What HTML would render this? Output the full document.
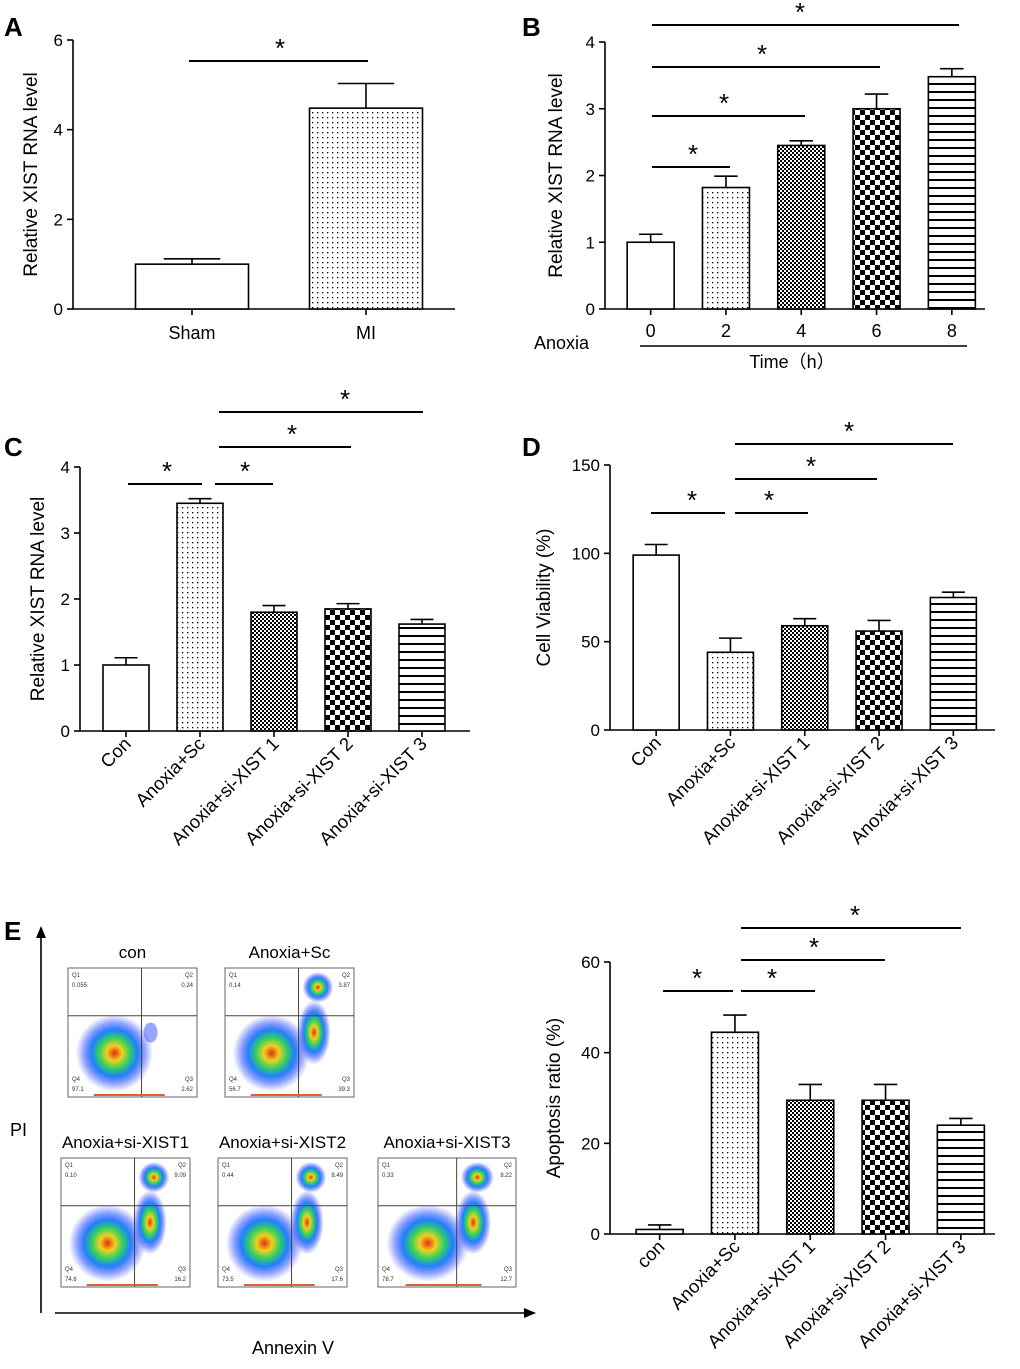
<!DOCTYPE html>
<html><head><meta charset="utf-8"><style>
body{margin:0;background:#fff}
svg{display:block;font-family:"Liberation Sans",Arial,sans-serif}
</style></head><body>
<svg id="fig" width="1020" height="1369" viewBox="0 0 1020 1369">
<defs>
<pattern id="dots" width="5" height="5" patternUnits="userSpaceOnUse"><rect width="5" height="5" fill="#fff"/><rect x="2" y="2" width="1.3" height="1.3" fill="#000"/></pattern>
<pattern id="fine" width="4" height="4" patternUnits="userSpaceOnUse"><rect width="4" height="4" fill="#fff"/><rect width="2" height="2" fill="#000"/><rect x="2" y="2" width="2" height="2" fill="#000"/></pattern>
<pattern id="coarse" width="10" height="10" patternUnits="userSpaceOnUse"><rect width="10" height="10" fill="#fff"/><rect width="5" height="5" fill="#000"/><rect x="5" y="5" width="5" height="5" fill="#000"/></pattern>
<pattern id="stripes" width="8" height="8" patternUnits="userSpaceOnUse"><rect width="8" height="8" fill="#fff"/><rect y="3" width="8" height="2" fill="#000"/></pattern>
<radialGradient id="blob"><stop offset="0" stop-color="#e03010"/><stop offset="0.2" stop-color="#f0d020"/><stop offset="0.4" stop-color="#30d060"/><stop offset="0.6" stop-color="#2080ff"/><stop offset="0.8" stop-color="#3050ff" stop-opacity="0.5"/><stop offset="1" stop-color="#4060ff" stop-opacity="0"/></radialGradient>
</defs>
<g id="root"></g>
</svg>
<script>
const NS="http://www.w3.org/2000/svg";
const root=document.getElementById('root');
function el(tag,attrs,parent,text){const e=document.createElementNS(NS,tag);for(const k in attrs)e.setAttribute(k,attrs[k]);if(text!==undefined)e.textContent=text;(parent||root).appendChild(e);return e;}

// ---- data ----
const catsA=["Sham","MI"];
const valsA=[1.0,4.48];
const errsA=[0.12,0.55];
const catsB=["0","2","4","6","8"];
const valsB=[1.0,1.82,2.45,3.0,3.48];
const errsB=[0.12,0.17,0.07,0.22,0.12];
const catsC=["Con","Anoxia+Sc","Anoxia+si-XIST 1","Anoxia+si-XIST 2","Anoxia+si-XIST 3"];
const valsC=[1.0,3.45,1.8,1.85,1.62];
const errsC=[0.11,0.07,0.1,0.08,0.07];
const catsD=["Con","Anoxia+Sc","Anoxia+si-XIST 1","Anoxia+si-XIST 2","Anoxia+si-XIST 3"];
const valsD=[99,44,59,56,75];
const errsD=[6,8,4,6,3];
const catsE=["con","Anoxia+Sc","Anoxia+si-XIST 1","Anoxia+si-XIST 2","Anoxia+si-XIST 3"];
const valsE=[1,44.5,29.5,29.5,24];
const errsE=[1,3.8,3.5,3.5,1.5];
const ticksRNA6=[0,2,4,6];
const ticksRNA4=[0,1,2,3,4];
const ticksVia=[0,50,100,150];
const ticksApo=[0,20,40,60];
const fills=["#fff","url(#dots)","url(#fine)","url(#coarse)","url(#stripes)"];

function chart(o){
  const g=el('g',{});
  
  
  const y=v=>o.yBot-(v/o.max)*(o.yBot-o.yTop);
  const cx=i=>o.start+(i+0.5)*o.step;
  el('line',{x1:o.ax,y1:o.yTop,x2:o.ax,y2:o.yBot,stroke:'#000','stroke-width':1.6},g);
  el('line',{x1:o.ax,y1:o.yBot,x2:o.xEnd,y2:o.yBot,stroke:'#000','stroke-width':1.6},g);
  o.ticks.forEach(t=>{
    el('line',{x1:o.ax-6,y1:y(t),x2:o.ax,y2:y(t),stroke:'#000','stroke-width':1.6},g);
    const tl=el('text',{x:o.ax-10,y:y(t)+6,'text-anchor':'end','font-size':17},g,String(t));
    
    
  });
  const yt=el('text',{x:0,y:0,'text-anchor':'middle','font-size':19,transform:`translate(${o.ylx},${(o.yTop+o.yBot)/2}) rotate(-90)`},g,o.ylabel);
  
  
  o.vals.forEach((v,i)=>{
    const c=cx(i),w=o.bw;
    const eTop=y(v+o.errs[i]);
    el('line',{x1:c,y1:y(v),x2:c,y2:eTop,stroke:'#000','stroke-width':1.6},g);
    el('line',{x1:c-w*0.25,y1:eTop,x2:c+w*0.25,y2:eTop,stroke:'#000','stroke-width':1.6},g);
    const b=el('rect',{x:c-w/2,y:y(v),width:w,height:o.yBot-y(v),fill:fills[o.fillIdx[i]],stroke:'#000','stroke-width':1.6},g);
    
    
    el('line',{x1:c,y1:o.yBot,x2:c,y2:o.yBot+6,stroke:'#000','stroke-width':1.6},g);
    let lab;
    if(o.rot){
      lab=el('text',{x:0,y:0,'text-anchor':'end','font-size':18.5,transform:`translate(${c+6},${o.yBot+14}) rotate(-45)`},g,o.cats[i]);
    } else {
      lab=el('text',{x:c,y:o.yBot+o.labDy,'text-anchor':'middle','font-size':18},g,o.cats[i]);
    }
    
    
  });
  (o.sig||[]).forEach(s=>{
    el('line',{x1:s[0],y1:s[2],x2:s[1],y2:s[2],stroke:'#000','stroke-width':2},g);
    const st=el('text',{x:s[3],y:s[2]-4,'text-anchor':'middle','font-size':26},g,'*');
    
    
  });
}
function panelLabel(t,x,y){const p=el('text',{x:x,y:y,'font-size':26,'font-weight':'bold'},root,t);}

chart({name:'chart-a',ax:73,yTop:40,yBot:309,max:6,xEnd:455,ticks:ticksRNA6,cats:catsA,vals:valsA,errs:errsA,start:105,step:174,bw:113,fillIdx:[0,1],labDy:30,ylx:37,ylabel:'Relative XIST RNA level',sig:[[189,368,61,280]]});
chart({name:'chart-b',ax:605,yTop:42,yBot:309,max:4,xEnd:985,ticks:ticksRNA4,cats:catsB,vals:valsB,errs:errsB,start:613,step:75.3,bw:47,fillIdx:[0,1,2,3,4],labDy:28,ylx:562,ylabel:'Relative XIST RNA level',sig:[[652,730,167,693],[652,805,116,724],[652,880,67,762],[652,959,25,800]]});
chart({name:'chart-c',ax:80,yTop:467,yBot:731,max:4,xEnd:470,ticks:ticksRNA4,cats:catsC,vals:valsC,errs:errsC,start:89,step:74,bw:46,fillIdx:[0,1,2,3,4],rot:true,ylx:44,ylabel:'Relative XIST RNA level',sig:[[128,202,484,167],[215,273,484,245],[219,351,447,292],[219,423,412,345]]});
chart({name:'chart-d',ax:610,yTop:465,yBot:730,max:150,xEnd:995,ticks:ticksVia,cats:catsD,vals:valsD,errs:errsD,start:619,step:74.3,bw:46,fillIdx:[0,1,2,3,4],rot:true,ylx:550,ylabel:'Cell Viability (%)',sig:[[651,725,513,692],[735,808,513,769],[735,877,479,811],[735,953,444,849]]});
chart({name:'chart-e',ax:610,yTop:962,yBot:1234,max:60,xEnd:995,ticks:ticksApo,cats:catsE,vals:valsE,errs:errsE,start:622,step:75.3,bw:47,fillIdx:[0,1,2,3,4],rot:true,ylx:560,ylabel:'Apoptosis ratio (%)',sig:[[663,733,991,697],[741,815,991,772],[741,885,960,814],[741,961,928,855]]});

panelLabel('A',4,36);panelLabel('B',522,36);panelLabel('C',4,456);panelLabel('D',522,456);panelLabel('E',4,940);

el('text',{x:534,y:349,'font-size':18},root,'Anoxia');
el('line',{x1:640,y1:346,x2:967,y2:346,stroke:'#000','stroke-width':1.6});
el('text',{x:792,y:368,'font-size':18,'text-anchor':'middle'},root,'Time（h）');

// Flow plots
const flowTitles=["con","Anoxia+Sc","Anoxia+si-XIST1","Anoxia+si-XIST2","Anoxia+si-XIST3"];
const flowQ=[["0.055","0.24","2.62","97.1"],["0.14","3.87","39.3","56.7"],["0.10","9.09","16.2","74.6"],["0.44","8.49","17.6","73.5"],["0.33","8.22","12.7","78.7"]];
const flowPos=[[68,968,129],[225,968,129],[61,1158,129],[218,1158,129],[378,1158,138]];
flowPos.forEach((p,i)=>{
  const [x,y,w]=p,h=129;
  const g=el('g',{});
  
  
  el('text',{x:x+w/2,y:y-10,'text-anchor':'middle','font-size':17},root,flowTitles[i]);
  el('rect',{x:x,y:y,width:w,height:h,fill:'#fff',stroke:'#666','stroke-width':1},g);
  const qx=x+w*0.57,qy=y+h*0.37;
  el('ellipse',{cx:x+w*0.36,cy:y+h*0.66,rx:w*0.3,ry:h*0.3,fill:'url(#blob)'},g);
  if(i===0){el('ellipse',{cx:x+w*0.64,cy:y+h*0.5,rx:7,ry:10,fill:'#3050ff',opacity:0.5},g);}
  else{
    el('ellipse',{cx:qx+w*0.12,cy:y+h*0.5,rx:w*0.13,ry:h*0.25,fill:'url(#blob)'},g);
    el('ellipse',{cx:qx+w*0.15,cy:y+h*0.15,rx:w*0.12,ry:h*0.12,fill:'url(#blob)'},g);
  }
  el('line',{x1:qx,y1:y,x2:qx,y2:y+h,stroke:'#444','stroke-width':1},g);
  el('line',{x1:x,y1:qy,x2:x+w,y2:qy,stroke:'#444','stroke-width':1},g);
  el('rect',{x:x+w*0.2,y:y+h-3,width:w*0.55,height:2,fill:'#e06030'},g);
  const q=flowQ[i];
  [["Q1",x+4,y+9,'start'],[q[0],x+4,y+19,'start'],["Q2",x+w-4,y+9,'end'],[q[1],x+w-4,y+19,'end'],["Q4",x+4,y+h-16,'start'],[q[3],x+4,y+h-6,'start'],["Q3",x+w-4,y+h-16,'end'],[q[2],x+w-4,y+h-6,'end']].forEach(t=>{
    el('text',{x:t[1],y:t[2],'font-size':6,'text-anchor':t[3],fill:'#333'},g,t[0]);
  });
});
el('line',{x1:41,y1:1313,x2:41,y2:934,stroke:'#000','stroke-width':1.6});
el('polygon',{points:'41,926 36,938 46,938',fill:'#000'});
el('line',{x1:55,y1:1313,x2:528,y2:1313,stroke:'#000','stroke-width':1.6});
el('polygon',{points:'536,1313 524,1308 524,1318',fill:'#000'});
el('text',{x:10,y:1136,'font-size':18},root,'PI');
el('text',{x:293,y:1354,'font-size':18,'text-anchor':'middle'},root,'Annexin V');
</script>
</body></html>
